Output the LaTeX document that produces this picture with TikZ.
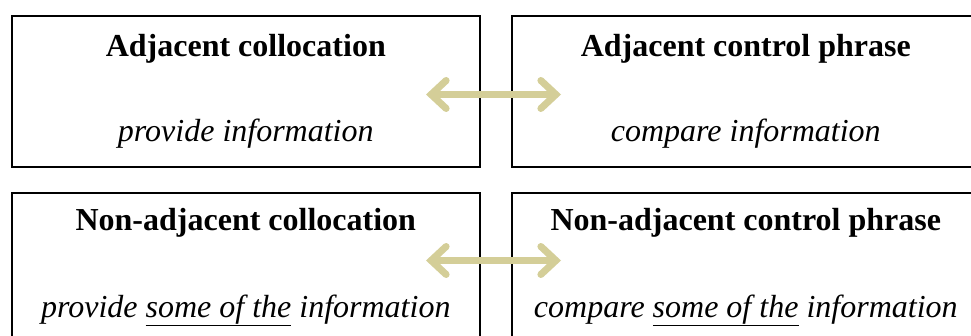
\documentclass[tikz,border=0pt]{standalone}
\usepackage{fontspec}
\setmainfont{Liberation Serif}
\usetikzlibrary{arrows.meta}
\definecolor{khaki}{RGB}{212,206,152}
\tikzset{
  box/.style={draw, line width=1.6pt, anchor=north west, minimum width=468pt, minimum height=151pt, inner sep=0pt},
  title/.style={anchor=base, inner sep=0pt, font=\fontsize{32}{38}\selectfont\bfseries},
  sub/.style={anchor=base, inner sep=0pt, font=\fontsize{32}{38}\selectfont\itshape},
  link/.style={draw=khaki, line width=7pt, {Straight Barb[length=15pt,width=28pt,line cap=round]}-{Straight Barb[length=15pt,width=28pt,line cap=round]}}
}
\begin{document}
\begin{tikzpicture}[x=1pt,y=-1pt]
\useasboundingbox (0,0) rectangle (971,336);
\clip (0,0) rectangle (971,336);
\node[box] (adjl) at (11,15) {};
\node[box] (adjr) at (511,15) {};
\node[box] (nadjl) at (11,192) {};
\node[box] (nadjr) at (511,192) {};
\node[title] (adjlt) at ([yshift=-42pt]adjl.north) {Adjacent collocation};
\node[sub] (adjls) at ([yshift=-127pt]adjl.north) {provide information};
\node[title] (adjrt) at ([yshift=-42pt]adjr.north) {Adjacent control phrase};
\node[sub] (adjrs) at ([yshift=-127pt]adjr.north) {compare information};
\node[title] (nadjlt) at ([yshift=-39pt]nadjl.north) {Non-adjacent collocation};
\node[sub] (nadjls) at ([yshift=-125pt]nadjl.north) {provide \underline{some of the} information};
\node[title] (nadjrt) at ([yshift=-39pt]nadjr.north) {Non-adjacent control phrase};
\node[sub] (nadjrs) at ([yshift=-125pt]nadjr.north) {compare \underline{some of the} information};
% arrows across the gap
\coordinate (a1) at (426,94.5);
\coordinate (b1) at (561,94.5);
\coordinate (a2) at (426,260.5);
\coordinate (b2) at (561,260.5);
\draw[link] (a1) -- (b1);
\draw[link] (a2) -- (b2);
\end{tikzpicture}
\end{document}
